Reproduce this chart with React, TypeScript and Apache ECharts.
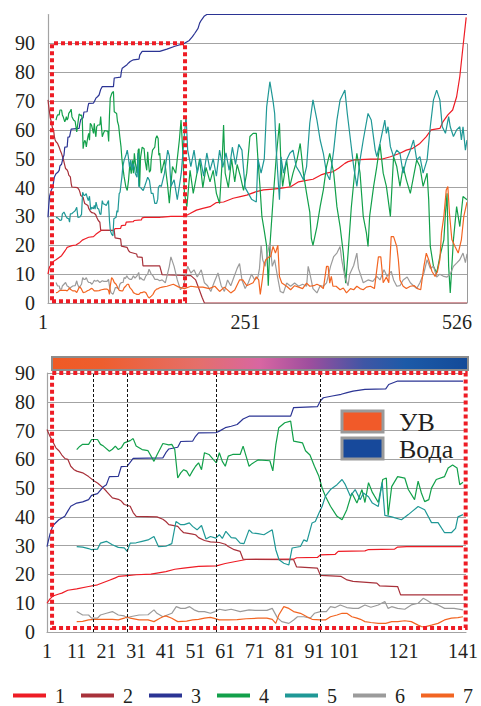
import React, { useEffect, useRef } from 'react';
import * as echarts from 'echarts';

type P = [number, number];

const seriesNames = ['1', '2', '3', '4', '5', '6', '7'];
const seriesColors = ['#EE1C25', '#A8313A', '#2B3494', '#12A04A', '#1F9896', '#9B9B9B', '#F26522'];

// ---- first 141 samples (shown in both charts) ----
const s1Head: P[] = [[1,10],[2,11.5],[3,12.5],[5,13.2],[6,13.5],[8,14.5],[11,15],[15,15.8],[18,16.4],[20,17.2],[22,18],[24,18.8],[25,19.3],[28,19.6],[31,19.9],[36,20.1],[41,21],[44,21.8],[47,22.2],[52,22.8],[58,23],[61,23.8],[64,24.4],[68,25.2],[84,25.3],[85,25.8],[92,25.9],[93,26.8],[98,27],[99,28],[108,28.2],[109,28.6],[118,28.8],[119,29.5],[122,29.7],[141,29.7]];
const s2Head: P[] = [[1,70.4],[2,68],[3,66],[4,64],[5,63],[6,61.5],[7,60.3],[8,60],[9,57.6],[10,56.5],[11,55.9],[13,55.3],[15,54],[17,52.4],[18,51.8],[20,50],[21,48.9],[23,46.6],[25,46.1],[26,45.5],[27,44.3],[29,43.7],[30,41.5],[31,40.2],[38,40],[40,39.2],[41,38.4],[42,37.3],[45,36.7],[46,35.5],[47,34.5],[50,34],[51,33.8],[52,32.8],[54,31.8],[56,31.3],[59,31.1],[61,30.5],[62,29.7],[64,28.6],[66,28],[67,25.3],[84,25.1],[85,22.6],[92,22.2],[93,19.7],[100,19.3],[102,18.1],[104,17.6],[112,17],[113,16],[119,15.8],[120,12.9],[141,12.9]];
const s3Head: P[] = [[1,29.7],[2,34],[3,37],[5,39],[7,40.2],[8,42],[9,43.7],[11,44.8],[13,45.2],[15,46],[16,47.5],[18,48.1],[20,50.5],[21,51.2],[22,54],[25,54.1],[26,57.5],[28,57.6],[30,60.3],[40,60.5],[41,62.3],[42,63.6],[45,64.2],[46,66.2],[50,66.3],[51,68],[52,69.2],[58,69.3],[59,69.8],[61,71],[63,71.5],[65,72.1],[67,74],[69,75],[83,75],[84,78],[92,78.3],[93,80.3],[94,81.4],[97,82],[100,82.6],[102,83.2],[104,83.7],[108,84.3],[115,84.5],[116,86],[119,87.2],[141,87.2]];
const s4Head: P[] = [[11,63.4],[12,64.5],[13,65.2],[15,65.2],[16,66.9],[18,66.9],[19,65.2],[20,64.6],[22,62.8],[23,63.5],[24,64.6],[25,63.4],[26,64],[27,65.7],[29,66.5],[30,67.2],[31,64.6],[33,63.4],[35,63],[37,59.3],[38,61.5],[39,63.5],[40,65.5],[42,65],[43,65.2],[44,63.4],[45,53.5],[46,55.3],[47,56.4],[48,55.9],[49,54.1],[50,56],[51,57.6],[52,58.8],[53,56.4],[54,62.3],[55.5,61.7],[57,59.9],[58,58.8],[59,62.3],[60,59.3],[61,57.6],[62,61.1],[63.5,61.7],[66,61.7],[67,64.6],[68,61.1],[69,57.6],[70,58.5],[72,59.8],[76,59.5],[77,56],[78,65],[79,71],[81,72.7],[83,73.3],[84,66.3],[87,65.7],[88,63],[89.5,61.5],[91,57.6],[92.5,54.1],[93.6,50],[94.7,47.2],[96.4,43.7],[98.6,40.2],[100.3,39],[101.9,42.5],[103.6,48.3],[105.3,44.8],[107,49.5],[108,45],[109.2,51.9],[110.5,48.5],[112.5,45],[114,53],[115.2,53.5],[115.8,40.5],[117,50.5],[119,54],[121.4,53.5],[122.6,49.5],[124.7,46],[125.9,52.4],[127,48.3],[128.1,45.3],[129.5,46],[130.4,50],[132,53],[134.8,54],[136,57],[137.5,58],[139,57],[139.9,51.2],[141,52]];
const s5Head: P[] = [[11,29.7],[13,29.5],[15,29],[16,28.6],[18,28.8],[19,30.9],[21,31.5],[23,30.3],[25,29.4],[27,29.2],[28,28],[29,30.9],[31,31],[33,31.5],[35,32],[37,33.2],[38.5,29.7],[41,29.8],[43,30.7],[44.4,38.4],[46,37.3],[47.2,37.3],[48.9,37.9],[50,36.7],[51.5,35.5],[53,37],[54.5,32.3],[56,33.2],[57.8,32.6],[59,33.8],[60,32.5],[61.2,35],[63,32.8],[64.5,32.6],[66,30.9],[67.3,30.7],[69,35.5],[70.1,34.4],[72,34.2],[74,33.8],[76.8,35.5],[78,28.6],[79.1,25.1],[80.7,23.9],[82.4,23.3],[83.5,29.2],[86.3,29.7],[87.4,32],[88.5,31.5],[90.2,37.9],[91.3,38.4],[92.5,41.3],[93.6,43.7],[94.7,47.2],[96.4,49.5],[98.6,51.2],[100.3,53],[101.4,51.2],[103.1,47.2],[104.7,49.5],[106.4,46],[107.5,48.3],[109.2,47],[110.5,44.8],[112.5,43.6],[113.8,52],[114.7,40.5],[117,40],[120.3,39],[122.6,40.8],[124,42],[125.9,43.6],[128.1,42.5],[130.4,38],[132.6,38],[134.8,34.5],[137.1,34.5],[138.5,36],[139.3,40],[141,40.8]];
const s6Head: P[] = [[11,7.1],[13,5.9],[15,5.9],[16,4.8],[18,4.8],[19,5.9],[21,6.5],[23,7.1],[25,5.9],[27,5.6],[28,4.8],[29,5.3],[32,5.9],[35,6],[37,7.7],[38,6.5],[40,5.3],[43,6.5],[44.5,8.8],[46,8.2],[47.5,8.2],[49,8.8],[50.5,7.7],[52,7.1],[54,7.1],[56,6.5],[57.5,7.1],[59,7.9],[61,7.5],[63,7.9],[66,7.1],[69,7.7],[71,7.5],[75,7.5],[76.8,8.2],[78.5,5],[80,3.6],[82.4,3],[84,4.2],[85.3,5.3],[87.5,5.3],[89.6,4.8],[91,6.5],[93,7.1],[95,7.1],[96.4,8.8],[98,8.5],[99.7,9.4],[101.9,8.5],[104,8.2],[105.8,8.2],[108,9.4],[110,8.6],[112.5,9.4],[114.7,10.6],[115.8,8.2],[117,8.8],[119,8.2],[121.4,7.9],[123.6,9.4],[125.9,10],[127.6,11.7],[128.7,11.1],[130.4,10],[132.6,9.4],[134.8,8.2],[138,8.2],[141,7.7]];
const s7Head: P[] = [[11,3.6],[13,3.7],[15,4.2],[17,4.4],[20,4.4],[23,4.4],[25,4.2],[27,4.8],[28,5.3],[29,4.8],[32,4.2],[35,4.2],[37,3.6],[39,4.8],[40,5.3],[41,5.6],[43,4.8],[45,3.6],[48,3.8],[50,4.2],[52,4.4],[54,4.8],[56,5.1],[57,4.8],[59,4.2],[62,4.2],[65,4.3],[68,4.6],[72,4.8],[75,4.8],[76.8,4.4],[78,3],[79,5.9],[80.7,8.8],[82.4,8.2],[84,7.1],[86.3,6.5],[88.5,5.3],[90.2,4.4],[93,4.2],[94.7,4.2],[96.4,5.3],[98.6,5.9],[100.3,6.5],[101.9,6.5],[103.6,5.3],[105.3,4.8],[106.5,4.4],[108,3.6],[110,3.3],[112.5,3],[115,3],[117,3.6],[119,3.6],[121.4,3.9],[123.6,3.6],[125.9,2.4],[127,1.9],[128.1,1.8],[130.4,2.4],[132.6,3],[134.8,4.2],[137.1,4.8],[139.3,5],[141,5.3]];

// ---- remaining samples 142..526 (top chart only) ----
const s1Tail: P[] = [[144,29.8],[155,30],[172,30],[179,31],[187,32.2],[195,32.8],[204,33.4],[212,34.8],[221,35],[233,36.3],[242,36.9],[250,37.4],[262,38.6],[271,39.2],[279,39.4],[292,39.7],[305,40.3],[315,42],[323,42.4],[333,42.9],[343,44.4],[350,45],[358,45.5],[365,46.7],[373,48.4],[377,49],[385,49.6],[405,49.9],[420,49.9],[430,50.7],[442,51.9],[450,53],[458,53.6],[467,55.3],[475,57.7],[481,60],[492,60.5],[496,62.9],[502,65.2],[508,66.9],[513,71.5],[517,78.5],[521,88.9],[525,99]];
const s2Tail: P[] = [[144,9.8],[180,9.5],[186,8],[190,5],[194,2],[197,0],[526,0]];
const s3Tail: P[] = [[150,88],[160,89],[172,90],[178,91],[182,92.3],[185,93.5],[189,95.2],[191,97],[193,98],[197,99.5],[200,100],[526,100]];
const s4Tail: P[] = [[143,45],[147,49.6],[151,40.4],[153,34.6],[157,47.3],[161,45],[165.6,56.5],[167.7,63.4],[169.8,53],[172,38],[175,33.4],[179,46],[183,38],[187,44],[191,50],[195,40],[199,47],[204,42],[208,46],[212,38],[216,34.5],[219,48],[221,61.7],[223,45],[227,40],[231,50],[235,42],[238,48],[242,44],[246,39],[250,45],[254,57.7],[258,58.8],[262,58.8],[264,50],[266.7,40],[269,30],[272,25],[275,19.6],[277,6],[279,19.6],[283,35.8],[287,50.7],[291,62.3],[293,47.3],[295,40.4],[300,49.6],[304,40.4],[308,45],[313,49.6],[317,55.3],[321,45],[325,38],[329,31.5],[331,22.3],[333,20],[338,26.5],[342,33.4],[346,39.2],[350,47.3],[354,51.9],[359,45],[363,33.4],[367,26.5],[371,17.3],[374,6.9],[377,17.3],[381,33],[386,47.3],[388,51.9],[392,45],[396,30],[400,24.2],[402,19.6],[404,30],[409,40.4],[413,47.3],[417,55],[421,45],[425,40.4],[430,30],[434,50.7],[438,47.3],[442,40.4],[446,47.3],[450,42.7],[455,38],[459,43.8],[463,49.6],[467,47.3],[471,40.4],[476,45],[478,35.8],[480,19.6],[484,12.7],[488,10.4],[492,16.1],[497,21.9],[499,31.1],[501,38],[503,12.7],[505,3.5],[509,21.9],[513,33.4],[517,26.5],[521,36.9],[526,35.8]];
const s5Tail: P[] = [[143,40.4],[147,45],[151,53],[153,51],[155,40.4],[159,42.7],[163,35.8],[168,45],[172,58.8],[174,64.6],[176,53],[180,47.3],[184,53],[188,45],[192,50],[196,44],[200,52],[204,46],[208,50],[212,44],[216,53],[220,47],[224,52],[228,46],[232,54],[236,48],[240,55],[244,53],[248,40],[252,38],[256,36],[262,35],[264,50],[268,45],[272,50],[275,68],[279,76.7],[283,70],[285,65.7],[287,53],[291,35.8],[293,50.7],[296,45],[300,49.6],[304,51.9],[308,53],[312,47.3],[317,45],[321,42.7],[325,47.3],[329,62.3],[333,70.4],[338,63.4],[342,56.5],[346,51.9],[350,45],[354,42.7],[359,53],[363,63.4],[367,70.4],[373,73.8],[376,65.7],[380,56.5],[384,47.3],[388,40.4],[392,49.6],[396,56.5],[402,65.7],[406,63.4],[411,53],[413,50.7],[417,55.3],[423,63.4],[425,58.8],[427,61.1],[430,54.2],[434,50.7],[438,53],[442,51.9],[446,45],[450,49.6],[455,53],[459,56.5],[463,49.6],[467,50.7],[471,45],[476,49.6],[480,61.1],[484,70.4],[488,73.8],[492,70.4],[495,61.1],[499,58.8],[503,64.6],[505,61.1],[509,57.7],[513,60],[517,61.1],[519,56.5],[521,61.1],[524,53],[526,56.5]];
const s6Tail: P[] = [[144,8],[148,7],[153,12.7],[155,16],[159,12.7],[163,8],[167,4.6],[171,6],[176,12.7],[180,10.4],[184,11.5],[188,9],[193,11.5],[197,7],[201,6],[205,4],[209,7],[214,10.4],[218,6],[222,4],[226,8],[230,6],[234,9],[238,12],[241,13.7],[244,8],[248,5],[252,7],[256,10],[260,8],[264,9],[266,12],[268,20],[270,15],[273,12.7],[276,17.3],[279,20.8],[282,12.7],[285,15],[288,10],[292,4],[296,3.5],[300,6.9],[305,5.8],[310,6.9],[315,5.8],[320,6.5],[325,5.8],[327,12.7],[329,10.4],[333,5],[338,3.5],[342,6],[346,5.8],[350,7],[355,12.7],[359,16.1],[363,17.3],[367,19.6],[369,15],[373,9],[377,6],[379,10],[384,13],[388,17.3],[390,12],[396,7],[402,8],[408,7.5],[413,9.2],[417,8],[422,11.5],[426,9.2],[431,11],[434,8],[438,5.8],[442,6],[446,8],[451,9],[455,7],[459,6],[463,5],[467,7],[472,10.4],[476,15],[480,12],[484,12.7],[488,9],[492,10],[497,9.2],[501,9],[505,10],[509,12.7],[513,13.8],[517,15],[521,17.3],[524,14],[526,17]];
const s7Tail: P[] = [[144,5.5],[150,5.8],[158,6.5],[165,5.5],[172,5],[180,5.8],[188,5.5],[195,5.5],[203,5],[210,5.8],[216,4],[222,5.5],[230,3.5],[235,4.5],[241,8],[245,8],[250,6],[254,6.5],[258,7],[262,9.1],[265,8],[267,3],[270,9],[272,13.7],[274,15],[278,16],[280,16.1],[283,19.6],[286,17.3],[289,20],[291,9.2],[294,6.9],[300,5.8],[305,4.6],[310,6],[315,5.5],[320,5],[325,6.9],[329,5.8],[334,6],[338,6.5],[342,6],[346,5],[350,12.7],[352,12.7],[354,6.9],[356,9.2],[358,5.8],[362,5.8],[367,4.6],[371,5.2],[375,3.5],[380,5],[384,4.6],[388,5.8],[392,5],[396,4.6],[400,5.5],[405,5.8],[410,5],[415,16],[418,16],[421,7],[425,9],[428,7],[431,23],[434,23],[438,19.6],[440,15],[442,8],[446,5.8],[450,5],[455,5.8],[460,6],[464,5],[468,4.6],[472,12.7],[475,17.3],[478,15],[482,11],[486,9.2],[489,11],[492,15],[494,24.2],[497,30],[500,39.2],[502,40.4],[504,31.1],[507,22],[511,19.6],[515,17.3],[519,22],[522,30],[526,35]];

const heads = [s1Head, s2Head, s3Head, s4Head, s5Head, s6Head, s7Head];
const tails = [s1Tail, s2Tail, s3Tail, s4Tail, s5Tail, s6Tail, s7Tail];

const topTicks = [1, 251, 526];
const bottomTicks = [1, 11, 21, 31, 41, 51, 61, 71, 81, 91, 101, 121, 141];
const markerX = [16.5, 28, 58, 93];
const topFrame = { x0: 6, x1: 172.7, y0: 0.6, y1: 90 };
const bottomFrame = { x0: 2.7, x1: 141.9, y0: 1.4, y1: 90 };
const boxLegend = [
  { label: 'УВ', color: '#F15A29' },
  { label: 'Вода', color: '#17499B' },
];

const FONT = 'Liberation Serif, Times New Roman, serif';
const TXT = '#231F20';
const GRID = '#A3A3A3';

function buildOption(): any {
  const frameStyle = {
    color: 'rgba(0,0,0,0)',
    borderColor: '#EE1C25',
    borderWidth: 4,
    borderType: [4, 3],
  };
  const series: any[] = [];
  for (let i = 0; i < 7; i++) {
    const s: any = {
      name: seriesNames[i],
      type: 'line',
      xAxisIndex: 0,
      yAxisIndex: 0,
      data: heads[i].concat(tails[i]),
      showSymbol: false,
      symbol: 'none',
      color: seriesColors[i],
      lineStyle: { width: 1.2, color: seriesColors[i] },
      z: 3,
    };
    if (i === 0) {
      s.markArea = {
        silent: true,
        z: 10,
        itemStyle: frameStyle,
        data: [[{ coord: [topFrame.x0, topFrame.y0] }, { coord: [topFrame.x1, topFrame.y1] }]],
      };
      s.markLine = {
        silent: true,
        symbol: 'none',
        label: { show: false },
        lineStyle: { color: '#9a9a9a', type: 'solid', width: 1 },
        data: [[{ coord: [526, 0] }, { coord: [526, 90] }]],
      };
    }
    series.push(s);
  }
  for (let i = 0; i < 7; i++) {
    const s: any = {
      name: seriesNames[i],
      type: 'line',
      xAxisIndex: 1,
      yAxisIndex: 1,
      data: heads[i],
      showSymbol: false,
      symbol: 'none',
      color: seriesColors[i],
      lineStyle: { width: 1.2, color: seriesColors[i] },
      z: 3,
    };
    if (i === 0) {
      s.markArea = {
        silent: true,
        z: 10,
        itemStyle: frameStyle,
        data: [[{ coord: [bottomFrame.x0, bottomFrame.y0] }, { coord: [bottomFrame.x1, bottomFrame.y1] }]],
      };
      s.markLine = {
        silent: true,
        symbol: 'none',
        label: { show: false },
        lineStyle: { color: '#111', type: [3, 2], width: 1 },
        data: markerX.map((x) => ({ xAxis: x })),
      };
    }
    series.push(s);
  }

  const axisLabelBase = { color: TXT, fontFamily: FONT, fontSize: 20 };

  return {
    animation: false,
    backgroundColor: '#fff',
    textStyle: { fontFamily: FONT },
    grid: [
      { left: 48, right: 14, top: 14.5, height: 288.5 },
      { left: 47, right: 13, top: 373, height: 259 },
    ],
    xAxis: [
      {
        gridIndex: 0, type: 'value', min: 1, max: 526,
        axisLine: { show: true, lineStyle: { color: GRID, width: 1.2 } },
        axisTick: { show: false },
        splitLine: { show: false },
        axisLabel: {
          ...axisLabelBase,
          margin: 9,
          hideOverlap: false,
          customValues: topTicks,
          formatter: (v: number) => (v === 526 ? '{e|526}' : v === 1 ? '{s|1}' : '{m|' + v + '}'),
          rich: {
            e: { ...axisLabelBase, padding: [0, 20, 0, 0] },
            s: { ...axisLabelBase, padding: [0, 10, 0, 0] },
            m: { ...axisLabelBase, padding: [0, 4, 0, 0] },
          },
        },
      },
      {
        gridIndex: 1, type: 'value', min: 1, max: 142,
        axisLine: { show: true, lineStyle: { color: GRID, width: 1.2 } },
        axisTick: { show: false },
        splitLine: { show: false },
        axisLabel: { ...axisLabelBase, margin: 9, hideOverlap: false, customValues: bottomTicks },
      },
    ],
    yAxis: [
      {
        gridIndex: 0, type: 'value', min: 0, max: 100, interval: 10,
        axisLine: { show: true, lineStyle: { color: GRID, width: 1.2 } },
        axisTick: { show: false },
        splitLine: { show: true, showMaxLine: false, lineStyle: { color: GRID, width: 1.2 } },
        axisLabel: { ...axisLabelBase, margin: 13, formatter: (v: number) => (v >= 100 ? '' : String(v)) },
      },
      {
        gridIndex: 1, type: 'value', min: 0, max: 90, interval: 10,
        axisLine: { show: true, lineStyle: { color: GRID, width: 1.2 } },
        axisTick: { show: false },
        splitLine: { show: true, lineStyle: { color: GRID, width: 1.2 } },
        axisLabel: { ...axisLabelBase, margin: 12 },
      },
    ],
    legend: {
      data: seriesNames,
      left: 8,
      top: 680,
      width: 472,
      icon: 'rect',
      itemWidth: 33,
      itemHeight: 4,
      itemGap: 16,
      textStyle: { color: TXT, fontFamily: FONT, fontSize: 20, lineHeight: 21, padding: [0, 0, 0, 4] },
      selectedMode: false,
    },
    graphic: [
      {
        type: 'rect',
        shape: { x: 52, y: 357, width: 416, height: 13 },
        style: {
          fill: new echarts.graphic.LinearGradient(0, 0, 1, 0, [
            { offset: 0, color: '#F05A24' },
            { offset: 0.12, color: '#EE5E2E' },
            { offset: 0.35, color: '#E56F6A' },
            { offset: 0.5, color: '#D866A2' },
            { offset: 0.62, color: '#9D4E9E' },
            { offset: 0.75, color: '#3F56A5' },
            { offset: 0.85, color: '#1C5AA8' },
            { offset: 1, color: '#134A98' },
          ]),
          stroke: '#8C8C8C',
          lineWidth: 2,
        },
        z: 20,
      },
      ...boxLegend.flatMap((b, i) => [
        {
          type: 'rect',
          shape: { x: 342, y: 411 + i * 27, width: 41, height: 21 },
          style: { fill: b.color, stroke: '#9A9A9A', lineWidth: 3 },
          z: 20,
        },
        {
          type: 'text',
          x: 399,
          y: 422 + i * 27,
          style: { text: b.label, fill: TXT, fontFamily: FONT, fontSize: 26, verticalAlign: 'middle', align: 'left' },
          z: 20,
        },
      ]),
    ],
    series,
  };
}

export default function App() {
  const ref = useRef<HTMLDivElement>(null);
  useEffect(() => {
    document.body.style.margin = '0';
    const chart = echarts.init(ref.current!, null, { renderer: 'svg' });
    chart.setOption(buildOption());
    return () => chart.dispose();
  }, []);
  return <div ref={ref} style={{ width: 481, height: 706 }} />;
}
